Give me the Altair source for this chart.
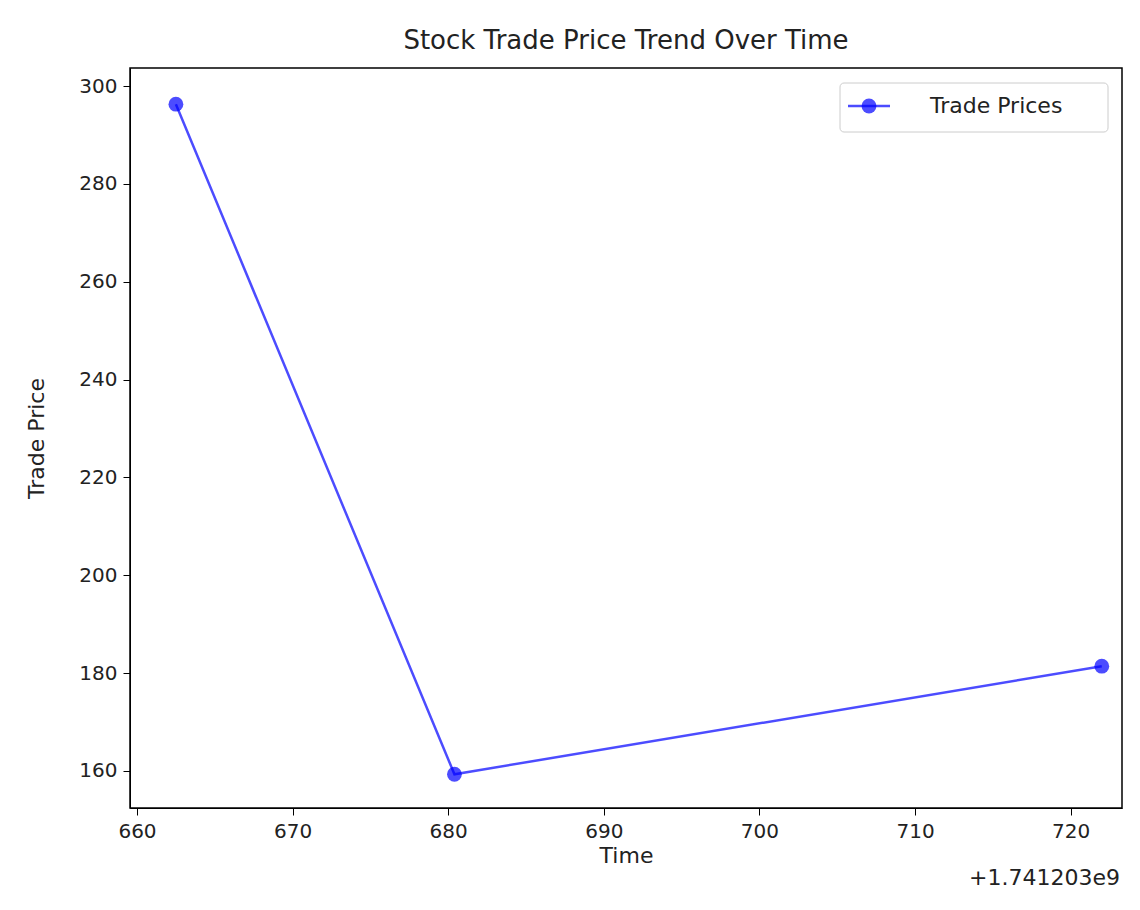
import altair as alt
import pandas as pd

# time offsets from 1.741203e9
times = [662.5, 680.4, 722.0]
prices = [296.3, 159.3, 181.4]
x_ticks = [660, 670, 680, 690, 700, 710, 720]
y_ticks = [160, 180, 200, 220, 240, 260, 280, 300]

df = pd.DataFrame({"time": times, "price": prices})
blue = "#0000ff"
font = "DejaVu Sans"

x = alt.X("time:Q", title="Time", scale=alt.Scale(domain=[659.55, 723.3], nice=False, zero=False),
          axis=alt.Axis(values=x_ticks, grid=False, format="d", titlePadding=4))
y = alt.Y("price:Q", title="Trade Price", scale=alt.Scale(domain=[152.4, 303.7], nice=False, zero=False),
          axis=alt.Axis(values=y_ticks, grid=False, format="d", titlePadding=30))

line = alt.Chart(df).mark_line(color=blue, opacity=0.7, strokeWidth=2.5).encode(x=x, y=y)
pts = alt.Chart(df).mark_circle(color=blue, opacity=0.7, size=220).encode(x=x, y=y)

one = pd.DataFrame({"k": [0]})
box = alt.Chart(one).mark_rect(fill="white", stroke="#cccccc", cornerRadius=4).encode(
    x=alt.value(710), x2=alt.value(978), y=alt.value(15), y2=alt.value(64))
lg_line = alt.Chart(one).mark_rule(color=blue, opacity=0.7, strokeWidth=2.5).encode(
    x=alt.value(718), x2=alt.value(760), y=alt.value(38))
lg_pt = alt.Chart(one).mark_circle(color=blue, opacity=0.7, size=220).encode(
    x=alt.value(739), y=alt.value(38))
lg_txt = alt.Chart(one).mark_text(text="Trade Prices", align="left", baseline="middle",
                                  fontSize=22, font=font, color="#222222").encode(
    x=alt.value(800), y=alt.value(38))
offset = alt.Chart(one).mark_text(text="+1.741203e9", align="right", baseline="middle",
                                  fontSize=22, font=font, color="#222222").encode(
    x=alt.value(990), y=alt.value(810))

chart = alt.layer(line, pts, box, lg_line, lg_pt, lg_txt, offset).properties(
    width=992, height=740,
    title=alt.Title("Stock Trade Price Trend Over Time", fontSize=26, font=font,
                    fontWeight="normal", color="#222222", offset=14),
    autosize=alt.AutoSizeParams(type="none"),
    padding={"left": 122, "top": 60, "right": 10, "bottom": 90},
).configure_view(stroke="black", strokeWidth=1.5).configure_axis(
    labelFont=font, titleFont=font, labelFontSize=20, titleFontSize=22,
    titleFontWeight="normal", labelColor="#222222", titleColor="#222222",
    domainColor="black", tickColor="black", tickSize=7, labelPadding=6,
)

chart.save("out.html", embed_options={"renderer": "svg", "actions": False})
